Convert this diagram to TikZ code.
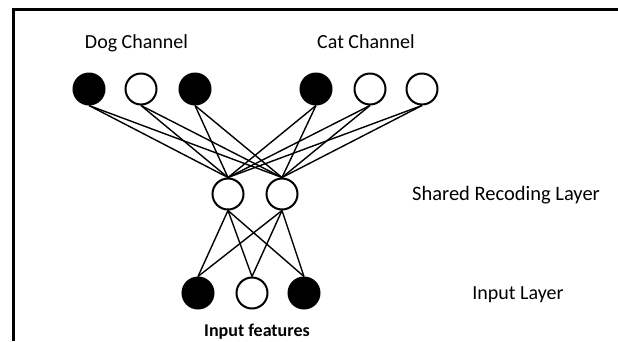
\documentclass[tikz,border=0pt]{standalone}
\usepackage{fontspec}
\setmainfont{Carlito}
\begin{document}
\begin{tikzpicture}[x=1pt,y=-1pt,
  neuron/.style={circle,draw=black,line width=2pt,minimum size=31pt,inner sep=0pt},
  on/.style={neuron,fill=black},
  off/.style={neuron,fill=white},
  link/.style={line width=1.4pt},
  lbl/.style={font=\fontsize{20}{22}\selectfont,inner sep=0pt,anchor=base}]
\useasboundingbox (0,0) rectangle (618,341);
% frame
\draw[line width=3pt] (13,341) -- (13,9) -- (618,9);
% top row
\node[on]  (d1) at (89,89) {};
\node[off] (d2) at (141,89) {};
\node[on]  (d3) at (195,89) {};
\node[on]  (c1) at (316,89) {};
\node[off] (c2) at (370,89) {};
\node[off] (c3) at (422,89) {};
% middle
\node[off] (m1) at (228,194) {};
\node[off] (m2) at (282,194) {};
% bottom
\node[on]  (i1) at (198,293) {};
\node[off] (i2) at (252,293) {};
\node[on]  (i3) at (304,293) {};
% links
\foreach \t in {d1,d2,d3,c1,c2,c3}{
  \draw[link] (\t.south) -- (m1.north);
  \draw[link] (\t.south) -- (m2.north);
}
\foreach \b in {i1,i2,i3}{
  \draw[link] (m1.south) -- (\b.north);
  \draw[link] (m2.south) -- (\b.north);
}
% labels
\node[lbl] (dl) at (136.5,48) {Dog Channel};
\node[lbl] (cl) at (366,48) {Cat Channel};
\node[lbl,font=\fontsize{20.5}{22}\selectfont] (sl) at (506,200) {Shared Recoding Layer};
\node[lbl] (il) at (518,299) {Input Layer};
\node[lbl,font=\fontsize{18}{20}\selectfont\bfseries] (fl) at (257,336) {Input features};
\end{tikzpicture}
\end{document}
